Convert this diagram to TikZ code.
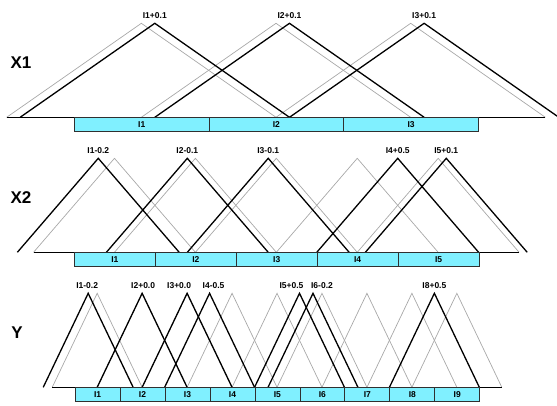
\documentclass[tikz,border=0pt]{standalone}
\usepackage{fontspec}
\setmainfont{Liberation Sans}
\definecolor{barcyan}{HTML}{80F0FF}
\definecolor{barline}{HTML}{303030}
\definecolor{trigray}{HTML}{A8A8A8}
\tikzset{
  graytri/.style={draw=trigray, line width=0.7pt, line join=miter},
  blacktri/.style={draw=black, line width=1.3pt, line join=miter},
  baseln/.style={draw=black, line width=0.8pt},
  barcell/.style={draw=barline, line width=0.8pt, fill=barcyan, inner sep=0pt, font=\bfseries\fontsize{8.5}{9}\selectfont},
  peaklabel/.style={font=\bfseries\fontsize{8.5}{9}\selectfont, inner sep=0pt},
  sectlabel/.style={font=\bfseries\fontsize{17}{20}\selectfont, inner sep=0pt}
}
\newcommand\drawsection[6]{% #1 name, #2 x0, #3 width, #4 n, #5 ybase, #6 list idx/shift/text/label offset
  \pgfmathsetmacro\xo{#2}\pgfmathsetmacro\w{#3}\pgfmathsetmacro\yb{#5}
  \pgfmathsetmacro\yp{\yb-94}
  \foreach \i in {1,...,#4} {
    \draw[graytri] ({\xo+(\i-1.5)*\w},\yb) -- ({\xo+(\i-0.5)*\w},\yp) -- ({\xo+(\i+0.5)*\w},\yb);
  }
  \foreach \i/\s/\t/\o in {#6} {
    \pgfmathsetmacro\c{\xo+(\i-0.5+\s)*\w}
    \draw[blacktri] ({\c-\w},\yb) -- (\c,\yp) -- ({\c+\w},\yb);
    \node[peaklabel, anchor=base] (#1p\i) at ({\c+\o},\yp-5) {I\i\t};
  }
  \draw[baseln] ({\xo-0.5*\w},\yb) -- ({\xo+(#4+0.5)*\w},\yb);
  \foreach \i in {1,...,#4} {
    \node[barcell, minimum width=\w pt, minimum height=13.4pt, anchor=north west] (#1c\i) at ({\xo+(\i-1)*\w},\yb) {I\i};
  }
}
\begin{document}
\begin{tikzpicture}[x=1pt,y=-1pt]
\useasboundingbox (0,0) rectangle (557,405);
\drawsection{a}{74}{134.67}{3}{117.3}{1/0.1/+0.1/0,2/0.1/+0.1/0,3/0.1/+0.1/0}
\drawsection{b}{74}{80.93}{5}{252.3}{1/-0.2/-0.2/0,2/-0.1/-0.1/0,3/-0.1/-0.1/0,4/0.5/+0.5/0,5/0.1/+0.1/0}
\drawsection{c}{74.7}{44.96}{9}{387.3}{1/-0.2/-0.2/-1,2/0.0/+0.0/1,3/0.0/+0.0/-8,4/-0.5/-0.5/4,5/0.5/+0.5/-8,6/-0.2/-0.2/9,8/0.5/+0.5/0}
\node[sectlabel] (lx1) at (21,63) {X1};
\node[sectlabel] (lx2) at (21,198) {X2};
\node[sectlabel] (ly) at (17,333) {Y};
\end{tikzpicture}
\end{document}
